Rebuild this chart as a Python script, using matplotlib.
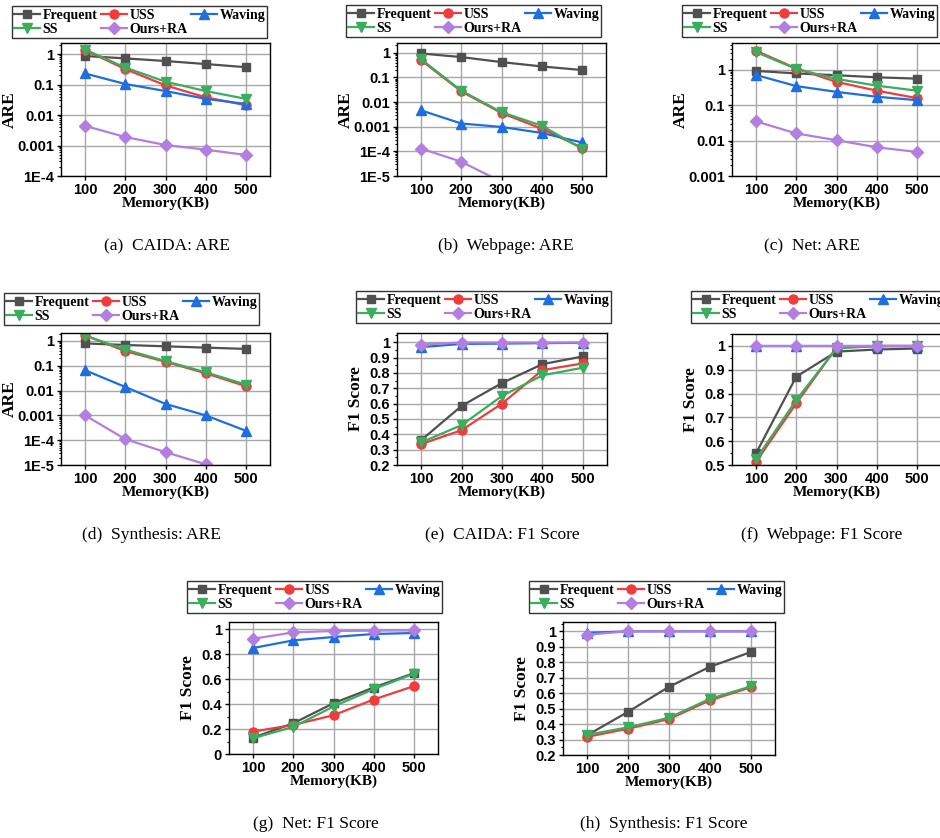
import math
import matplotlib
matplotlib.use('Agg')
import matplotlib.pyplot as plt
from matplotlib.ticker import FixedLocator, FuncFormatter, LogLocator, AutoMinorLocator, NullFormatter

memory = [100, 200, 300, 400, 500]
methods = ['Frequent', 'USS', 'Waving', 'SS', 'Ours+RA']

# ARE values
caida_are = {
    'Frequent': [0.86, 0.72, 0.59, 0.47, 0.37],
    'USS': [1.35, 0.32, 0.094, 0.038, 0.021],
    'Waving': [0.23, 0.104, 0.061, 0.034, 0.023],
    'SS': [1.4, 0.36, 0.124, 0.061, 0.034],
    'Ours+RA': [0.0044, 0.0019, 0.00104, 0.00073, 0.00049],
}
webpage_are = {
    'Frequent': [0.94, 0.67, 0.42, 0.28, 0.20],
    'USS': [0.5, 0.027, 0.0036, 0.00083, 0.00014],
    'Waving': [0.0046, 0.00135, 0.00098, 0.00056, 0.00023],
    'SS': [0.55, 0.029, 0.0039, 0.0011, 0.00013],
    'Ours+RA': [0.00013, 0.000038, 0.0000058, 0.000003, 0.0000015],
}
net_are = {
    'Frequent': [0.94, 0.8, 0.71, 0.62, 0.57],
    'USS': [3.5, 1.1, 0.46, 0.26, 0.16],
    'Waving': [0.72, 0.35, 0.24, 0.175, 0.14],
    'SS': [3.2, 1.07, 0.56, 0.36, 0.26],
    'Ours+RA': [0.035, 0.016, 0.0103, 0.0065, 0.0048],
}
synth_are = {
    'Frequent': [0.8, 0.69, 0.61, 0.54, 0.48],
    'USS': [1.7, 0.39, 0.145, 0.05, 0.015],
    'Waving': [0.066, 0.014, 0.0029, 0.001, 0.00024],
    'SS': [1.65, 0.45, 0.155, 0.055, 0.0175],
    'Ours+RA': [0.001, 0.00011, 0.000033, 0.0000107, 0.000004],
}

# F1 score values
caida_f1 = {
    'Frequent': [0.362, 0.585, 0.734, 0.857, 0.907],
    'USS': [0.336, 0.427, 0.6, 0.818, 0.862],
    'Waving': [0.968, 0.989, 0.991, 0.994, 0.996],
    'SS': [0.347, 0.46, 0.65, 0.784, 0.834],
    'Ours+RA': [0.985, 0.998, 0.998, 0.998, 0.998],
}
webpage_f1 = {
    'Frequent': [0.55, 0.871, 0.976, 0.985, 0.989],
    'USS': [0.514, 0.759, 0.993, 1.0, 1.0],
    'Waving': [0.999, 0.999, 0.999, 0.999, 0.999],
    'SS': [0.525, 0.773, 0.99, 0.999, 0.999],
    'Ours+RA': [1.0, 1.0, 1.0, 1.0, 1.0],
}
net_f1 = {
    'Frequent': [0.131, 0.246, 0.406, 0.532, 0.647],
    'USS': [0.179, 0.233, 0.31, 0.436, 0.543],
    'Waving': [0.848, 0.909, 0.936, 0.96, 0.968],
    'SS': [0.126, 0.217, 0.38, 0.519, 0.642],
    'Ours+RA': [0.922, 0.973, 0.984, 0.987, 0.989],
}
synth_f1 = {
    'Frequent': [0.329, 0.48, 0.641, 0.77, 0.865],
    'USS': [0.318, 0.37, 0.432, 0.553, 0.637],
    'Waving': [0.989, 1.0, 1.0, 1.0, 1.0],
    'SS': [0.331, 0.379, 0.441, 0.563, 0.643],
    'Ours+RA': [0.978, 1.0, 1.0, 1.0, 1.0],
}

colors = {'Frequent': '#505050', 'USS': '#f03c3c', 'Waving': '#1f6ee0',
          'SS': '#3aad5e', 'Ours+RA': '#b27fe0'}
markers = {'Frequent': 's', 'USS': 'o', 'Waving': '^', 'SS': 'v', 'Ours+RA': 'D'}
msizes = {'Frequent': 6, 'USS': 6.5, 'Waving': 6.5, 'SS': 6.5, 'Ours+RA': 6}
# legend fills column by column; this gives rows Frequent/USS/Waving, SS/Ours+RA
legend_order = ['Frequent', 'SS', 'USS', 'Ours+RA', 'Waving']

W, H = 940, 838
fig = plt.figure(figsize=(W / 100, H / 100), dpi=100)

SERIF = 'Liberation Serif'
SANS = 'Liberation Sans'


def px_box(left, top, right, bottom):
    return [left / W, 1 - bottom / H, (right - left) / W, (bottom - top) / H]


def log_label(v, pos):
    if v >= 1e-3:
        return '%g' % v
    return '1E%d' % int(round(math.log10(v)))


# data, log?, ylim, yticks, axes box, legend lower-left corner, caption, caption pos
panels = [
    (caida_are, True, (1e-4, 2.3), [1e-4, 1e-3, 1e-2, 0.1, 1],
     (61, 43, 270, 176), (12, 38), '(a)  CAIDA: ARE', (167, 246)),
    (webpage_are, True, (1e-5, 2.5), [1e-5, 1e-4, 1e-3, 1e-2, 0.1, 1],
     (397, 43, 606, 176), (346, 37), '(b)  Webpage: ARE', (506, 246)),
    (net_are, True, (1e-3, 5.8), [1e-3, 1e-2, 0.1, 1],
     (732, 43, 941, 176), (682, 37), '(c)  Net: ARE', (812, 246)),
    (synth_are, True, (1e-5, 2.1), [1e-5, 1e-4, 1e-3, 1e-2, 0.1, 1],
     (61, 333, 270, 465), (4, 325), '(d)  Synthesis: ARE', (151, 535)),
    (caida_f1, False, (0.2, 1.06), [0.2, 0.3, 0.4, 0.5, 0.6, 0.7, 0.8, 0.9, 1.0],
     (397, 333, 607, 465), (356, 323), '(e)  CAIDA: F1 Score', (502, 535)),
    (webpage_f1, False, (0.5, 1.05), [0.5, 0.6, 0.7, 0.8, 0.9, 1.0],
     (732, 334, 941, 465), (691, 323), '(f)  Webpage: F1 Score', (822, 535)),
    (net_f1, False, (0, 1.056), [0, 0.2, 0.4, 0.6, 0.8, 1.0],
     (229, 622, 438, 754), (187, 613), '(g)  Net: F1 Score', (316, 824)),
    (synth_f1, False, (0.2, 1.06), [0.2, 0.3, 0.4, 0.5, 0.6, 0.7, 0.8, 0.9, 1.0],
     (563, 622, 775, 755), (529, 613), '(h)  Synthesis: F1 Score', (664, 824)),
]

for data, is_log, ylim, yticks, abox, lpos, caption, cpos in panels:
    ax = fig.add_axes(px_box(*abox))
    lines = {}
    for m in methods:
        lines[m], = ax.plot(memory, data[m], color=colors[m], marker=markers[m],
                            markersize=msizes[m], linewidth=1.6, label=m)
    ax.set_xlim(40, 560)
    ax.set_xticks(memory)
    if is_log:
        ax.set_yscale('log')
        ax.yaxis.set_major_locator(FixedLocator(yticks))
        ax.yaxis.set_major_formatter(FuncFormatter(log_label))
        ax.yaxis.set_minor_locator(LogLocator(base=10, subs=range(2, 10), numticks=20))
        ax.yaxis.set_minor_formatter(NullFormatter())
        ax.set_ylabel('ARE', fontfamily=SERIF, fontweight='bold', fontsize=12.5)
        ax.yaxis.set_label_coords(-0.205, 0.5)
    else:
        ax.set_yticks(yticks)
        ax.yaxis.set_major_formatter(FuncFormatter(lambda v, p: '%g' % round(v, 2)))
        ax.yaxis.set_minor_locator(AutoMinorLocator(2))
        ax.set_ylabel('F1 Score', fontfamily=SERIF, fontweight='bold', fontsize=12.5)
        ax.yaxis.set_label_coords(-0.157, 0.5)
    ax.set_ylim(*ylim)
    ax.set_xlabel('Memory(KB)', fontfamily=SERIF, fontweight='bold', fontsize=11, labelpad=0)
    ax.grid(True, which='major', color='#a8a8a8', linewidth=1.0)
    ax.set_axisbelow(True)
    for sp in ax.spines.values():
        sp.set_linewidth(1.0)
        sp.set_color('black')
    ax.tick_params(axis='both', which='major', direction='out', length=3, width=1, pad=2)
    ax.tick_params(axis='y', which='minor', direction='out', length=1.8, width=0.8)
    for lab in ax.get_xticklabels() + ax.get_yticklabels():
        lab.set_fontfamily(SANS)
        lab.set_fontweight('bold')
        lab.set_fontsize(10.5)

    lx, ly = lpos[0] / W, 1 - lpos[1] / H
    leg = ax.legend([lines[m] for m in legend_order], legend_order,
                    loc='lower left', bbox_to_anchor=(lx, ly),
                    bbox_transform=fig.transFigure, ncol=3,
                    borderaxespad=0, borderpad=0.15, labelspacing=0.1,
                    handlelength=1.9, handletextpad=0.15, columnspacing=0.25,
                    fancybox=False, frameon=True, edgecolor='black',
                    prop={'family': SERIF, 'weight': 'bold', 'size': 10})
    leg.get_frame().set_linewidth(1.0)

    fig.text(cpos[0] / W, 1 - cpos[1] / H, caption, fontfamily=SERIF,
             fontsize=12.5, ha='center', va='center')

fig.savefig('out.png', dpi=100)
plt.close(fig)
